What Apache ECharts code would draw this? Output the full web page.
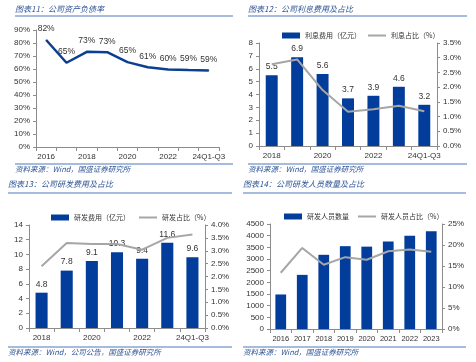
<!DOCTYPE html>
<html><head><meta charset="utf-8">
<script src="https://cdn.jsdelivr.net/npm/echarts@6/dist/echarts.min.js"></script>
<style>html,body{margin:0;padding:0;background:#fff}#c{width:476px;height:362px}</style>
</head><body><div id="c"></div>
<script>
// Panel 1: 公司资产负债率
const cats1 = ['2016','2017','2018','2019','2020','2021','2022','2023','24Q1-Q3'];
const debtRatio = [82.3, 64.8, 73.2, 72.9, 65.3, 61.4, 59.7, 59.2, 58.9];
// Panel 2: 利息费用及占比
const cats2 = ['2018','2019','2020','2021','2022','2023','24Q1-Q3'];
const interestCost = [5.5, 6.9, 5.6, 3.7, 3.9, 4.6, 3.2];
const interestRatio = [2.78, 2.94, 1.90, 1.16, 1.25, 1.37, 1.18];
// Panel 3: 研发费用及占比
const cats3 = ['2018','2019','2020','2021','2022','2023','24Q1-Q3'];
const rdCost = [4.8, 7.8, 9.1, 10.3, 9.4, 11.6, 9.6];
const rdRatio = [2.40, 3.30, 3.26, 3.26, 3.04, 3.50, 3.63];
// Panel 4: 研发人员数量及占比
const cats4 = ['2016','2017','2018','2019','2020','2021','2022','2023'];
const rdStaff = [1480, 2320, 3180, 3550, 3530, 3750, 4000, 4190];
const rdStaffRatio = [13.4, 19.3, 15.3, 17.1, 16.5, 18.5, 18.9, 18.4];

const titles = ['图表11：公司资产负债率','图表12：公司利息费用及占比','图表13：公司研发费用及占比','图表14：公司研发人员数量及占比'];
const sources = ['资料来源：Wind，国盛证券研究所','资料来源：Wind，国盛证券研究所','资料来源：Wind，公司公告，国盛证券研究所','资料来源：Wind，国盛证券研究所'];

const BAR = '#023d9b', LINE = '#a6a6a6', AX = '#8c8c8c', TXT = '#333';
const FONT = 'Liberation Sans, Arial, sans-serif';
const CJK = 'Noto Sans CJK SC';
const LINE_ICON = 'path://M0,0h18v2h-18z';

function xAx(gi, data, interval, fs) {
  return {type:'category', gridIndex:gi, data:data,
    axisLine:{lineStyle:{color:AX}}, axisTick:{show:true, interval:0, length:4, lineStyle:{color:AX}},
    axisLabel:{interval:interval, color:TXT, fontSize:fs||8, fontFamily:FONT, margin:6}};
}
function yAx(gi, min, max, step, fmt, pos) {
  return {type:'value', gridIndex:gi, min:min, max:max, interval:step, position:pos||'left',
    axisLine:{show:true, lineStyle:{color:AX}}, axisTick:{show:true, length:3, lineStyle:{color:AX}},
    splitLine:{show:false},
    axisLabel:{color:TXT, fontSize:8, fontFamily:FONT, margin:6, formatter:fmt}};
}

const graphic = [];
const pan = [[15,10,16,233,164,170],[248,10,16,467,164,170],[8,185,193,232,347,353],[243,185,193,466,347,353]];
pan.forEach((p,i)=>{
  const x0 = p[0];
  graphic.push({type:'text', left:x0, top:p[1]-5, style:{text:titles[i], fill:'#2f5597', font:'italic 8px "'+CJK+'"'}});
  graphic.push({type:'line', shape:{x1:x0, y1:p[2], x2:p[3], y2:p[2]}, style:{stroke:'#4f7ac0', lineWidth:1.2}});
  graphic.push({type:'line', shape:{x1:x0, y1:p[4], x2:p[3], y2:p[4]}, style:{stroke:'#4f7ac0', lineWidth:1.2}});
  graphic.push({type:'text', left:x0, top:p[5]-5, style:{text:sources[i], fill:'#2f5597', font:'italic 7.5px "'+CJK+'"'}});
});

const lblStyle = {show:true, position:'top', color:TXT, fontSize:8.5, fontFamily:FONT, distance:4};
const legText = {fontSize:7, color:TXT, fontFamily:CJK};

const option = {
  animation:false,
  graphic: graphic,
  grid:[
    {left:36, right:257, top:30, bottom:215},
    {left:259, right:39, top:43, bottom:216},
    {left:29, right:271, top:225, bottom:34},
    {left:270, right:34, top:224, bottom:33}
  ],
  legend:[
    {left:277, top:27, itemWidth:18, itemHeight:6, itemGap:7, textStyle:legText,
     data:[{name:'利息费用（亿元）', icon:'rect'},{name:'利息占比（%）', icon:LINE_ICON}]},
    {left:46, top:209, itemWidth:18, itemHeight:6, itemGap:9, textStyle:legText,
     data:[{name:'研发费用（亿元）', icon:'rect'},{name:'研发占比（%）', icon:LINE_ICON}]},
    {left:279, top:208, itemWidth:18, itemHeight:6, itemGap:9, textStyle:legText,
     data:[{name:'研发人员数量', icon:'rect'},{name:'研发人员占比（%）', icon:LINE_ICON}]}
  ],
  xAxis:[ xAx(0,cats1,1), xAx(1,cats2,1), xAx(2,cats3,1), xAx(3,cats4,0,7.5) ],
  yAxis:[
    yAx(0,0,90,10,v=>v+'%'),
    yAx(1,0,8,1,v=>v),
    yAx(1,0,3.5,0.5,v=>v.toFixed(1)+'%','right'),
    yAx(2,0,14,2,v=>v),
    yAx(2,0,4,0.5,v=>v.toFixed(1)+'%','right'),
    yAx(3,0,4500,500,v=>v),
    yAx(3,0,25,5,v=>v+'%','right')
  ],
  series:[
    {type:'line', name:'资产负债率', xAxisIndex:0, yAxisIndex:0, data:debtRatio, symbol:'circle', symbolSize:1, showSymbol:true,
     lineStyle:{color:'#0b3f91', width:2.5}, itemStyle:{color:'#0b3f91'},
     label:{show:true, position:'top', color:TXT, fontSize:8.5, fontFamily:FONT, distance:6, formatter:p=>Math.round(p.value)+'%'}},
    {type:'bar', name:'利息费用（亿元）', xAxisIndex:1, yAxisIndex:1, data:interestCost, barWidth:'47%', itemStyle:{color:BAR}, label:lblStyle},
    {type:'line', name:'利息占比（%）', xAxisIndex:1, yAxisIndex:2, data:interestRatio, symbol:'none', lineStyle:{color:LINE, width:2}, itemStyle:{color:LINE}},
    {type:'bar', name:'研发费用（亿元）', xAxisIndex:2, yAxisIndex:3, data:rdCost, barWidth:'48%', itemStyle:{color:BAR}, label:lblStyle},
    {type:'line', name:'研发占比（%）', xAxisIndex:2, yAxisIndex:4, data:rdRatio, symbol:'none', lineStyle:{color:LINE, width:2}, itemStyle:{color:LINE}},
    {type:'bar', name:'研发人员数量', xAxisIndex:3, yAxisIndex:5, data:rdStaff, barWidth:'50%', itemStyle:{color:BAR}},
    {type:'line', name:'研发人员占比（%）', xAxisIndex:3, yAxisIndex:6, data:rdStaffRatio, symbol:'none', lineStyle:{color:LINE, width:2}, itemStyle:{color:LINE}}
  ]
};
const chart = echarts.init(document.getElementById('c'), null, {renderer:'canvas'});
chart.setOption(option);
</script></body></html>
